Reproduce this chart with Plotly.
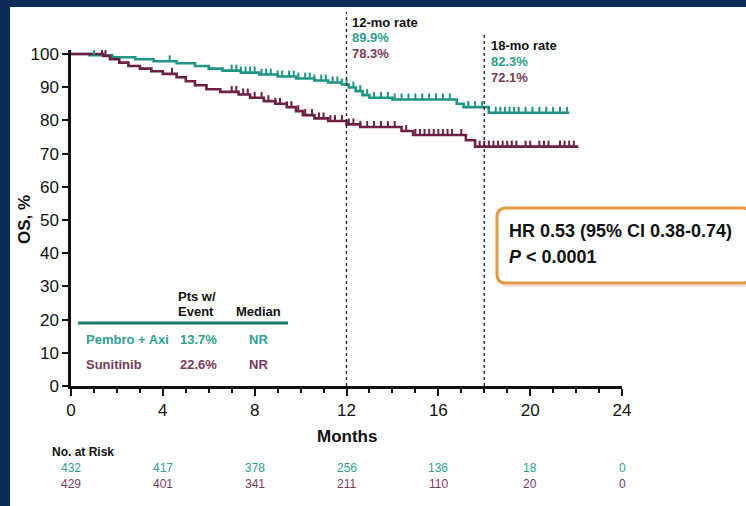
import numpy as np
import plotly.graph_objects as go

# ---------------- data ----------------
pembro_t = [0, 0.8, 1.8, 2.8, 3.6, 4.6, 5.4, 6.0, 6.6, 7.4, 8.2, 9.0, 9.8, 10.6, 11.2, 11.8, 12.1, 12.4, 12.7, 13.0, 14.0, 16.8, 17.1, 18.2, 21.7]
pembro_s = [100, 99.6, 99.0, 98.4, 97.8, 97.2, 96.4, 95.6, 95.0, 94.4, 93.8, 93.2, 92.6, 92.0, 91.4, 90.8, 89.9, 88.8, 87.6, 86.8, 86.3, 85.0, 84.0, 82.3, 82.3]
suni_t = [0, 1.4, 1.7, 2.1, 2.5, 3.0, 3.5, 4.0, 4.6, 5.0, 5.4, 5.9, 6.5, 7.3, 7.8, 8.4, 8.9, 9.4, 9.8, 10.1, 10.6, 11.2, 12.0, 12.6, 14.4, 14.9, 17.2, 17.6, 22.1]
suni_s = [100, 99.4, 98.4, 97.4, 96.4, 95.6, 94.8, 94.0, 93.0, 91.8, 90.6, 89.4, 88.6, 87.8, 86.8, 85.8, 85.0, 84.0, 82.8, 81.6, 80.6, 79.8, 78.8, 78.0, 76.8, 75.6, 74.0, 72.1, 72.1]

pembro_cens = [1.0, 4.3, 7.0, 7.2, 7.4, 7.6, 7.8, 8.0, 8.3, 8.5, 8.7, 9.0, 9.2, 9.5, 9.7, 9.9, 10.2, 10.4, 10.6, 10.9, 11.1, 11.4, 11.6, 11.8, 12.0, 12.3, 12.6, 12.9, 13.2, 13.5, 13.8, 14.1, 14.4, 14.7, 15.0, 15.3, 15.6, 15.9, 16.2, 16.5, 17.3, 17.6, 17.9, 18.5, 18.7, 18.9, 19.1, 19.3, 19.5, 19.8, 20.1, 20.4, 20.7, 21.0, 21.3, 21.6]
suni_cens = [1.35, 1.5, 4.4, 7.0, 7.2, 7.5, 7.7, 8.0, 8.3, 8.6, 8.9, 9.1, 9.4, 9.6, 9.9, 10.2, 10.5, 10.8, 11.0, 11.3, 11.5, 11.8, 12.1, 12.3, 12.6, 12.9, 13.2, 13.5, 13.8, 14.1, 14.6, 15.0, 15.2, 15.4, 15.6, 15.8, 16.0, 16.2, 16.4, 16.6, 17.0, 17.8, 18.0, 18.2, 18.4, 18.6, 18.8, 19.0, 19.2, 19.4, 19.8, 20.0, 20.4, 20.6, 20.8, 21.3, 21.5, 21.7, 21.9]

risk_months = [0, 4, 8, 12, 16, 20, 24]
risk_pembro = [432, 417, 378, 256, 136, 18, 0]
risk_suni = [429, 401, 341, 211, 110, 20, 0]

x_ticks = [0, 4, 8, 12, 16, 20, 24]
y_ticks = [0, 10, 20, 30, 40, 50, 60, 70, 80, 90, 100]

# ---------------- style ----------------
TEAL = "#1d9484"
TEAL_TXT = "#2e9f8f"
MAROON = "#6e1f44"
MAROON_TXT = "#7a3a5c"
NAVY = "#0c2c58"
FONT = "Liberation Sans, Arial, sans-serif"

W, H = 746, 506
L, R, T, B = 71, 622, 50, 386


def px(x):
    return (x - L) / (R - L)


def py(y):
    return (B - y) / (B - T)


def step_at(ts, ss, t):
    i = np.searchsorted(np.array(ts), t, side="right") - 1
    return ss[max(i, 0)]


def censor_segments(ts, ss, cens, h):
    xs, ys = [], []
    for c in cens:
        v = step_at(ts, ss, c)
        xs += [c, c, None]
        ys += [v, v + h, None]
    return xs, ys


fig = go.Figure()

for ts, ss, col in [(pembro_t, pembro_s, TEAL), (suni_t, suni_s, MAROON)]:
    fig.add_trace(go.Scatter(x=ts, y=ss, mode="lines", line=dict(color=col, width=2.6, shape="hv"),
                             showlegend=False, hoverinfo="skip"))

for ts, ss, cens, col in [(pembro_t, pembro_s, pembro_cens, TEAL), (suni_t, suni_s, suni_cens, MAROON)]:
    cx, cy = censor_segments(ts, ss, cens, 1.8)
    fig.add_trace(go.Scatter(x=cx, y=cy, mode="lines", line=dict(color=col, width=2),
                             showlegend=False, hoverinfo="skip"))

shapes = []
# navy frame
shapes.append(dict(type="rect", xref="paper", yref="paper", x0=px(-5), x1=px(760), y0=py(7), y1=py(-5),
                   fillcolor=NAVY, line=dict(width=0), layer="above"))
shapes.append(dict(type="rect", xref="paper", yref="paper", x0=px(-5), x1=px(10), y0=py(520), y1=py(-5),
                   fillcolor=NAVY, line=dict(width=0), layer="above"))
# landmark lines
shapes.append(dict(type="line", xref="x", yref="paper", x0=12, x1=12, y0=0, y1=py(12),
                   line=dict(color="#222", width=1.3, dash="dot")))
shapes.append(dict(type="line", xref="x", yref="paper", x0=18, x1=18, y0=0, y1=py(32),
                   line=dict(color="#222", width=1.3, dash="dot")))
# table rule
shapes.append(dict(type="line", xref="paper", yref="paper", x0=px(78), x1=px(288), y0=py(323), y1=py(323),
                   line=dict(color="#187f72", width=3)))


def rounded_rect(x0, y0, x1, y1, r):
    return (f"M {px(x0 + r)} {py(y0)} L {px(x1 - r)} {py(y0)} "
            f"Q {px(x1)} {py(y0)} {px(x1)} {py(y0 + r)} L {px(x1)} {py(y1 - r)} "
            f"Q {px(x1)} {py(y1)} {px(x1 - r)} {py(y1)} L {px(x0 + r)} {py(y1)} "
            f"Q {px(x0)} {py(y1)} {px(x0)} {py(y1 - r)} L {px(x0)} {py(y0 + r)} "
            f"Q {px(x0)} {py(y0)} {px(x0 + r)} {py(y0)} Z")


shapes.append(dict(type="path", xref="paper", yref="paper", path=rounded_rect(499, 211, 752, 287, 9),
                   fillcolor="rgba(200,170,140,0.35)", line=dict(width=0), layer="below"))
shapes.append(dict(type="path", xref="paper", yref="paper", path=rounded_rect(497, 208, 752, 283, 9),
                   fillcolor="white", line=dict(color="#e39a45", width=3)))

ann = []


def A(text, x, y, size=13, color="#111", xanchor="left", yanchor="middle", xref="paper", bold=False):
    ann.append(dict(text=(f"<b>{text}</b>" if bold else text), x=(px(x) if xref == "paper" else x),
                    y=py(y), xref=xref, yref="paper", xanchor=xanchor, yanchor=yanchor,
                    showarrow=False, font=dict(family=FONT, size=size, color=color)))


A("12-mo rate", 350, 22, 13, "#111", bold=True)
A("89.9%", 350, 38, 13, TEAL_TXT, bold=True)
A("78.3%", 350, 54, 13, MAROON_TXT, bold=True)
A("18-mo rate", 489, 45, 13, "#111", bold=True)
A("82.3%", 489, 61, 13, TEAL_TXT, bold=True)
A("72.1%", 489, 77, 13, MAROON_TXT, bold=True)

A("Pts w/", 176, 296, 13, "#111", bold=True)
A("Event", 176, 311, 13, "#111", bold=True)
A("Median", 258, 311, 13, "#111", xanchor="center", bold=True)
A("Pembro + Axi", 84, 339, 13, TEAL_TXT, bold=True)
A("13.7%", 178, 339, 13, TEAL_TXT, bold=True)
A("NR", 258, 339, 13, TEAL_TXT, xanchor="center", bold=True)
A("Sunitinib", 84, 364, 13, MAROON_TXT, bold=True)
A("22.6%", 178, 364, 13, MAROON_TXT, bold=True)
A("NR", 258, 364, 13, MAROON_TXT, xanchor="center", bold=True)

A("HR 0.53 (95% CI 0.38-0.74)", 507, 231, 18, "#111", bold=True)
A("<i>P</i> &lt; 0.0001", 507, 257, 18, "#111", bold=True)

A("Months", 347, 437, 17, "#111", xanchor="center", bold=True)
A("No. at Risk", 50, 452, 12, "#111", bold=True)
for m, a, b in zip(risk_months, risk_pembro, risk_suni):
    A(str(a), m, 468, 12, TEAL_TXT, xanchor="center", xref="x")
    A(str(b), m, 484, 12, MAROON_TXT, xanchor="center", xref="x")

A("OS, %", 24, 220, 17, "#111", xanchor="center", bold=True)
ann[-1]["textangle"] = -90

fig.update_layout(
    width=W, height=H,
    margin=dict(l=L, r=W - R, t=T, b=H - B, pad=0),
    paper_bgcolor="white", plot_bgcolor="white",
    showlegend=False,
    shapes=shapes, annotations=ann,
    font=dict(family=FONT, size=16, color="#111"),
    xaxis=dict(range=[0, 24], tickvals=x_ticks, ticks="outside", ticklen=7, tickwidth=2, tickcolor="#111",
               showline=True, linecolor="#111", linewidth=2.5, showgrid=False, zeroline=False,
               tickfont=dict(family=FONT, size=17, color="#111"),
               minor=dict(dtick=1, ticks="outside", ticklen=4, tickwidth=1.5, tickcolor="#111")),
    yaxis=dict(range=[0, 101.2], tickvals=y_ticks, ticks="outside", ticklen=6, tickwidth=2, tickcolor="#111",
               showline=True, linecolor="#111", linewidth=2.5, showgrid=False, zeroline=False,
               tickfont=dict(family=FONT, size=17, color="#111")),
)

fig.write_html("out.html")
